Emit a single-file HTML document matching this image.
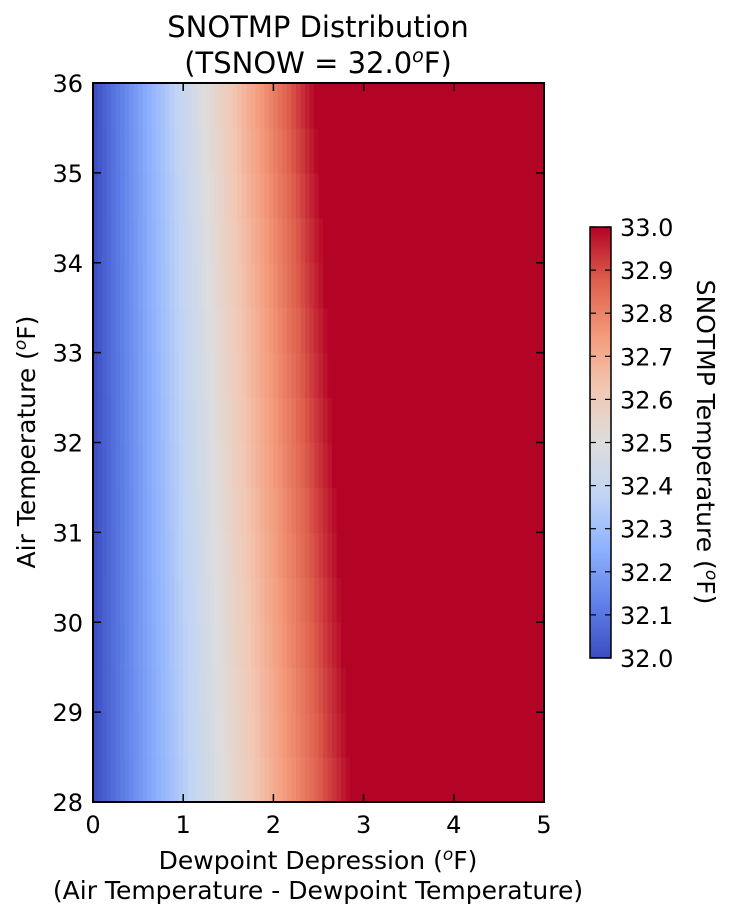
<!DOCTYPE html>
<html><head><meta charset="utf-8"><style>
body{margin:0;background:#fff;}
svg text{font-family:"DejaVu Sans","Liberation Sans",sans-serif;fill:#000;}
</style></head><body>
<svg id="chart" width="732" height="919" xmlns="http://www.w3.org/2000/svg">
<text x="318" y="37" font-size="29" text-anchor="middle">SNOTMP Distribution</text>
<text x="318" y="73" font-size="29" text-anchor="middle">(TSNOW = 32.0<tspan font-style="italic" font-size="19" dy="-11">o</tspan><tspan dy="11">F)</tspan></text>
<g id="cells"></g>
<rect x="93" y="83" width="451" height="719" fill="none" stroke="#000" stroke-width="2"/>
<g id="axes"></g>
<text x="318" y="869" font-size="25" text-anchor="middle">Dewpoint Depression (<tspan font-style="italic" font-size="17" dy="-9">o</tspan><tspan dy="9">F)</tspan></text>
<text x="318" y="899" font-size="25" text-anchor="middle">(Air Temperature - Dewpoint Temperature)</text>
<text transform="translate(35,442) rotate(-90)" font-size="25" text-anchor="middle">Air Temperature (<tspan font-style="italic" font-size="17" dy="-9">o</tspan><tspan dy="9">F)</tspan></text>
<g id="cbar"></g>
<text transform="translate(697,442) rotate(90)" font-size="25" text-anchor="middle">SNOTMP Temperature (<tspan font-style="italic" font-size="17" dy="-9">o</tspan><tspan dy="9">F)</tspan></text>
</svg>
<script>
const colDepression=[0,0.05,0.1,0.15,0.2,0.25,0.3,0.35,0.4,0.45,0.5,0.55,0.6,0.65,0.7,0.75,0.8,0.85,0.9,0.95,1.0,1.05,1.1,1.15,1.2,1.25,1.3,1.35,1.4,1.45,1.5,1.55,1.6,1.65,1.7,1.75,1.8,1.85,1.9,1.95,2.0,2.05,2.1,2.15,2.2,2.25,2.3,2.35,2.4,2.45,2.5,2.55,2.6,2.65,2.7,2.75,2.8,2.85,2.9,2.95,3.0,3.05,3.1,3.15,3.2,3.25,3.3,3.35,3.4,3.45,3.5,3.55,3.6,3.65,3.7,3.75,3.8,3.85,3.9,3.95,4.0,4.05,4.1,4.15,4.2,4.25,4.3,4.35,4.4,4.45,4.5,4.55,4.6,4.65,4.7,4.75,4.8,4.85,4.9,4.95];
const rowTemps=[28,28.5,29,29.5,30,30.5,31,31.5,32,32.5,33,33.5,34,34.5,35,35.5];
const rowCutoff=[2.86,2.83,2.81,2.78,2.76,2.73,2.71,2.68,2.66,2.63,2.61,2.58,2.56,2.53,2.5,2.47];
const xTicks=[0,1,2,3,4,5];
const yTicks=[28,29,30,31,32,33,34,35,36];
const cbTicks=[32.0,32.1,32.2,32.3,32.4,32.5,32.6,32.7,32.8,32.9,33.0];
const NS="http://www.w3.org/2000/svg";
const X=d=>93+d*(451/5), Y=t=>802-(t-28)*(719/8);
const CB=v=>658-(v-32)*431;
const stops=[[0,59,76,192],[0.125,95,128,232],[0.25,141,176,254],[0.375,192,212,245],[0.5,221,221,221],[0.625,242,200,180],[0.75,244,154,123],[0.875,222,96,77],[1,180,4,38]];
function cmap(v){let f=Math.max(0,Math.min(1,v-32));for(let i=1;i<stops.length;i++){if(f<=stops[i][0]){const a=stops[i-1],b=stops[i],t=(f-a[0])/(b[0]-a[0]);return `rgb(${[1,2,3].map(k=>Math.round(a[k]+(b[k]-a[k])*t)).join(',')})`;}}return 'rgb(180,4,38)';}
function mk(tag,attrs,parent){const e=document.createElementNS(NS,tag);for(const k in attrs)e.setAttribute(k,attrs[k]);parent.appendChild(e);return e;}
const cells=document.getElementById('cells');
const step=0.05;
rowTemps.forEach((t,r)=>{
  const cut=rowCutoff[r];
  const y0=Y(t+0.5),y1=Y(t);
  colDepression.forEach((d)=>{
    const x0=X(d),x1=X(d+step);
    if(d+step<=cut){
      const v=Math.min(33,32+(d+step/2)/cut);
      const e=mk('rect',{x:x0,y:y0,width:x1-x0+0.6,height:y1-y0+0.6,fill:cmap(v)},cells);
      
      
    } else if(d<cut){
      const xm=X(cut);
      const v=Math.min(33,32+(d+step/2)/cut);
      const e=mk('rect',{x:x0,y:y0,width:xm-x0+0.3,height:y1-y0+0.6,fill:cmap(v)},cells);
      
      
      const e2=mk('rect',{x:xm,y:y0,width:x1-xm+0.6,height:y1-y0+0.6,fill:cmap(33)},cells);
      
      
    } else {
      const e=mk('rect',{x:x0,y:y0,width:x1-x0+0.6,height:y1-y0+0.6,fill:cmap(33)},cells);
      
      
    }
  });
});
const axes=document.getElementById('axes');
xTicks.forEach(d=>{
  mk('line',{x1:X(d),x2:X(d),y1:802,y2:794,stroke:'#000','stroke-width':1.5},axes);
  mk('line',{x1:X(d),x2:X(d),y1:83,y2:91,stroke:'#000','stroke-width':1.5},axes);
  const t=mk('text',{x:X(d),y:833,'font-size':24,'text-anchor':'middle'},axes);t.textContent=d;
  
  
});
yTicks.forEach(v=>{
  mk('line',{x1:93,x2:101,y1:Y(v),y2:Y(v),stroke:'#000','stroke-width':1.5},axes);
  mk('line',{x1:544,x2:536,y1:Y(v),y2:Y(v),stroke:'#000','stroke-width':1.5},axes);
  const t=mk('text',{x:83,y:Y(v)+9,'font-size':24,'text-anchor':'end'},axes);t.textContent=v;
  
  
});
const cb=document.getElementById('cbar');
for(let i=0;i<200;i++){const v0=32+i/200,v1=32+(i+1)/200;
  const e=mk('rect',{x:590,y:CB(v1),width:21,height:CB(v0)-CB(v1)+0.5,fill:cmap((v0+v1)/2)},cb);
  
  }
mk('rect',{x:590,y:227,width:21,height:431,fill:'none',stroke:'#000','stroke-width':1.5},cb);
cbTicks.forEach(v=>{
  mk('line',{x1:605,x2:611,y1:CB(v),y2:CB(v),stroke:'#000','stroke-width':1.2},cb);
  mk('line',{x1:590,x2:596,y1:CB(v),y2:CB(v),stroke:'#000','stroke-width':1.2},cb);
  const t=mk('text',{x:620,y:CB(v)+9,'font-size':24},cb);t.textContent=v.toFixed(1);
  
  
});
</script>
</body></html>
